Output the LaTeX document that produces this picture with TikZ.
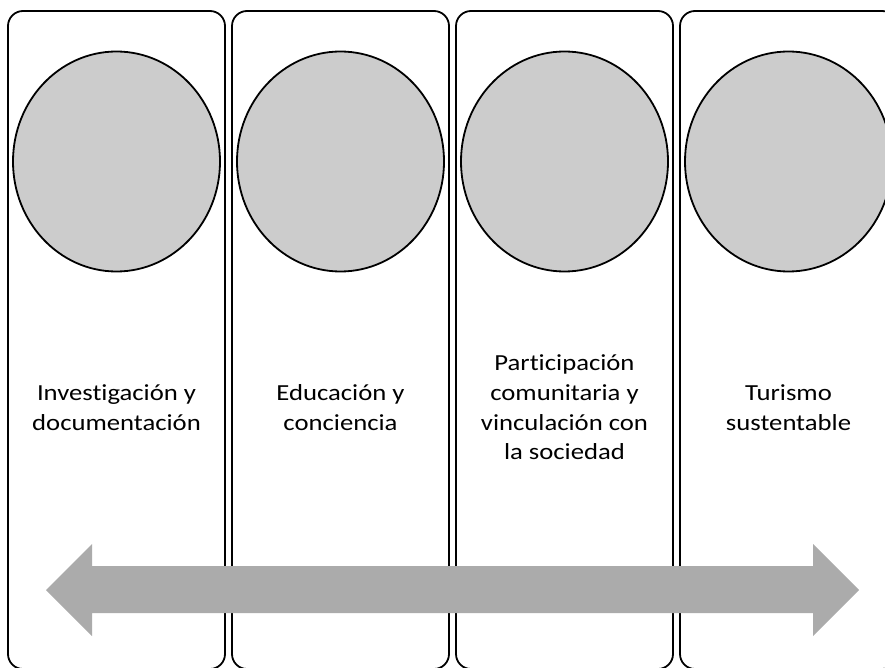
\documentclass[tikz,border=0pt]{standalone}
\usepackage{fontspec}
\setmainfont{Carlito}[Ligatures=NoCommon]
\usetikzlibrary{shapes.geometric}
\definecolor{circlegray}{HTML}{CCCCCC}
\definecolor{arrowgray}{HTML}{ABABAB}
\tikzset{
  column/.style={draw=black, line width=1.8pt, rounded corners=15pt, minimum width=217pt, minimum height=658pt, inner sep=0pt},
  disc/.style={ellipse, draw=black, line width=1.8pt, fill=circlegray, minimum width=207pt, minimum height=220pt, inner sep=0pt},
  label/.style={align=center, font=\fontsize{23}{29.7}\selectfont, inner sep=0pt, xscale=1.16, transform shape}
}
\begin{document}
\begin{tikzpicture}[x=1pt, y=-1pt]
					\useasboundingbox (0,0) rectangle (885,668);
					\clip (0,0) rectangle (885,668);

					\node[column] (box1) at (116.5,340) {};
					\node[column] (box2) at (340.5,340) {};
					\node[column] (box3) at (564.5,340) {};
					\node[column] (box4) at (788.5,340) {};

					\node[disc] (circ1) at (116.5,161.5) {};
					\node[disc] (circ2) at (340.5,161.5) {};
					\node[disc] (circ3) at (564.5,161.5) {};
					\node[disc] (circ4) at (788.5,161.5) {};

					\node[label] (lbl1) at (116.5,407.5) {Investigación y\\documentación};
					\node[label] (lbl2) at (340.5,407.5) {Educación y\\conciencia};
					\node[label] (lbl3) at (564.5,407.5) {Participación\\comunitaria y\\vinculación con\\la sociedad};
					\node[label] (lbl4) at (788.5,407.5) {Turismo\\sustentable};

					\fill[arrowgray] (46,590) -- (92,544) -- (92,566) -- (813,566) -- (813,544)
					  -- (859,590) -- (813,636) -- (813,613) -- (92,613) -- (92,636) -- cycle;

\end{tikzpicture}
\end{document}
